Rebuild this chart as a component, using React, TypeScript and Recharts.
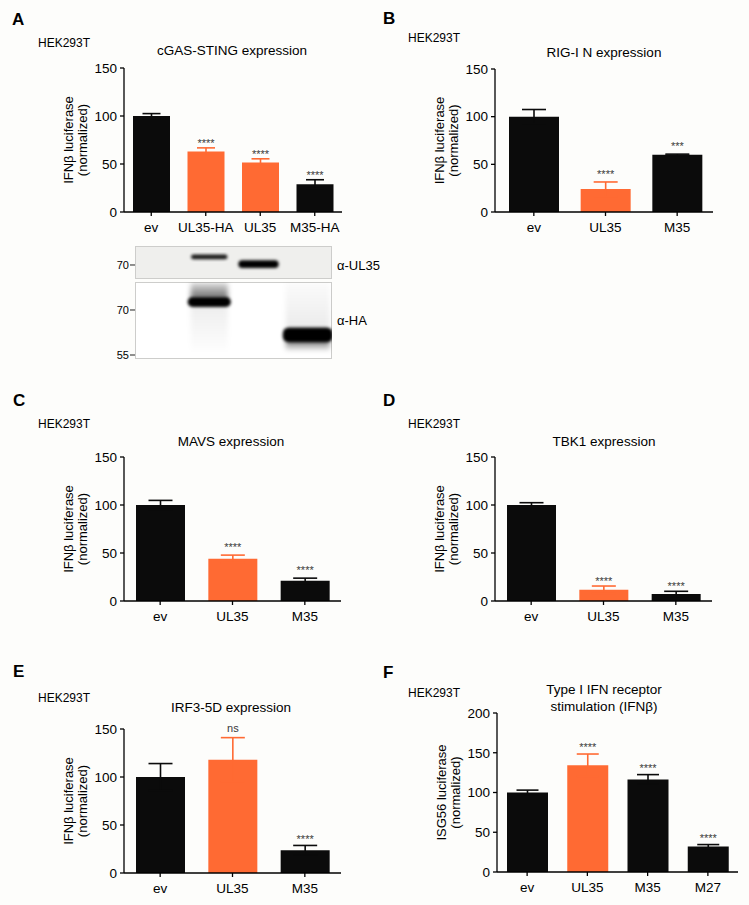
import React from 'react';
import { BarChart, Bar, XAxis, YAxis, ErrorBar, Cell, LabelList } from 'recharts';

const BLACK = '#0b0b0b';
const ORANGE = '#ff6a33';
const FONT = '"Liberation Sans", Arial, Helvetica, sans-serif';

// A - cGAS-STING expression
const aCats = ['ev', 'UL35-HA', 'UL35', 'M35-HA'];
const aVals = [100, 63, 51.5, 29];
const aErr = [2.5, 3.8, 3.9, 4.6];
const aStars = ['', '****', '****', '****'];
const aOrange = [false, true, true, false];

// B - RIG-I N expression
const bCats = ['ev', 'UL35', 'M35'];
const bVals = [100, 24, 60];
const bErr = [7.5, 7.5, 0.7];
const bStars = ['', '****', '***'];
const bOrange = [false, true, false];

// C - MAVS expression
const cCats = ['ev', 'UL35', 'M35'];
const cVals = [100, 44, 21];
const cErr = [4.8, 3.8, 2.8];
const cStars = ['', '****', '****'];
const cOrange = [false, true, false];

// D - TBK1 expression
const dCats = ['ev', 'UL35', 'M35'];
const dVals = [100, 11.8, 7.3];
const dErr = [2.4, 3.8, 2.8];
const dStars = ['', '****', '****'];
const dOrange = [false, true, false];

// E - IRF3-5D expression
const eCats = ['ev', 'UL35', 'M35'];
const eVals = [100, 118, 23.7];
const eErr = [14, 23, 5];
const eStars = ['', 'ns', '****'];
const eOrange = [false, true, false];

// F - type I IFN receptor stimulation
const fCats = ['ev', 'UL35', 'M35', 'M27'];
const fVals = [100, 134.4, 116.5, 32];
const fErr = [3, 14, 6, 2.5];
const fStars = ['', '****', '****', '****'];
const fOrange = [false, true, false, false];

const ticks150 = [0, 50, 100, 150];
const ticks200 = [0, 50, 100, 150, 200];
const ifnLabel = ['IFNβ luciferase', '(normalized)'];
const isgLabel = ['ISG56 luciferase', '(normalized)'];

const blotLanes = ['ev', 'UL35-HA', 'UL35', 'M35-HA'];
const ul35Blot = [
  { lane: 'ev', range: null },
  { lane: 'UL35-HA', range: [71.9, 73.5], bandLo: 71.9, bandHi: 73.5, core: 0.9, up: 0, down: 0 },
  { lane: 'UL35', range: [69.0, 71.6], bandLo: 69.0, bandHi: 71.6, core: 1, up: 0, down: 0 },
  { lane: 'M35-HA', range: null },
];
const haBlot = [
  { lane: 'ev', range: null },
  { lane: 'UL35-HA', range: [56.5, 79.2], bandLo: 71.0, bandHi: 74.3, core: 1, up: 0.6, down: 0.07 },
  { lane: 'UL35', range: null },
  { lane: 'M35-HA', range: [56.5, 79.2], bandLo: 59.2, bandHi: 64.2, core: 1, up: 0.08, down: 0.55 },
];

const makeRows = (cats: string[], vals: number[], err: number[], stars: string[], orange: boolean[]) =>
  cats.map((c, i) => ({
    cat: c,
    value: vals[i],
    err: err[i],
    errK: orange[i] ? null : err[i],
    errO: orange[i] ? err[i] : null,
    stars: stars[i],
    orange: orange[i],
  }));

const Txt = ({ x, y, size = 13, bold = false, center = false, children }: any) => (
  <div
    style={{
      position: 'absolute',
      left: x,
      top: y,
      transform: center ? 'translate(-50%, -50%)' : 'translateY(-50%)',
      fontSize: size,
      fontWeight: bold ? 700 : 400,
      lineHeight: 1,
      whiteSpace: 'nowrap',
      fontFamily: FONT,
      color: '#000',
    }}
  >
    {children}
  </div>
);

const AxisTitle = (props: any) => {
  const vb = props.viewBox || {};
  const right = vb.x + vb.width;
  const cy = vb.y + vb.height / 2;
  return (
    <g>
      {props.lines.map((t: string, i: number) => {
        const x = right - 56 + i * 14;
        return (
          <text key={i} x={x} y={cy} transform={`rotate(-90 ${x} ${cy})`} textAnchor="middle"
            dominantBaseline="central" fontSize={13} fontFamily={FONT} fill="#000">
            {t}
          </text>
        );
      })}
    </g>
  );
};

const axisStyle = { stroke: '#000', strokeWidth: 1.3 };
const tickStyle = { fill: '#000', fontSize: 13.5, fontFamily: FONT };
const YW = 76;

const BarPanel = ({ rows, axisX, yTop, yBottom, xEnd, yMax, yTicks, yLabel, barSize, cap, gap, padL = 0 }: any) => {
  const L = axisX - YW;
  const T = yTop - 12;
  const W = xEnd - L + 4;
  const H = yBottom - T + 30;

  const starContent = (p: any) => {
    const r = rows[p.index];
    if (!r || !r.stars) return null;
    const h = Number(p.height);
    const capY = Number(p.y) - (r.err * h) / r.value;
    const lower = /[a-z]/.test(r.stars);
    return (
      <text x={Number(p.x) + Number(p.width) / 2} y={capY - gap + (lower ? 3 : 6.3)} textAnchor="middle"
        fontSize={11} fontFamily={FONT} fill="#3a3a3a">
        {r.stars}
      </text>
    );
  };

  return (
    <div style={{ position: 'absolute', left: L, top: T }}>
      <BarChart width={W} height={H} data={rows} margin={{ top: 12, right: 4, bottom: 0, left: 0 }}>
        <XAxis dataKey="cat" interval={0} height={30} padding={{ left: padL, right: 0 }}
          axisLine={axisStyle} tickLine={axisStyle} tickSize={4} tickMargin={6} tick={tickStyle} />
        <YAxis type="number" domain={[0, yMax]} ticks={yTicks} interval={0} width={YW} allowDataOverflow
          axisLine={axisStyle} tickLine={axisStyle} tickSize={4} tickMargin={3} tick={tickStyle}
          label={<AxisTitle lines={yLabel} />} />
        <Bar dataKey="value" barSize={barSize} isAnimationActive={false}>
          {rows.map((r: any, i: number) => (
            <Cell key={i} fill={r.orange ? ORANGE : BLACK} />
          ))}
          <ErrorBar dataKey="errK" width={cap} stroke={BLACK} strokeWidth={1.6} isAnimationActive={false} />
          <ErrorBar dataKey="errO" width={cap} stroke={ORANGE} strokeWidth={1.6} isAnimationActive={false} />
          <LabelList dataKey="stars" content={starContent} />
        </Bar>
      </BarChart>
    </div>
  );
};

const makeBand = (tag: string) => (p: any) => {
  const d = p.payload;
  if (!d || !d.range) return null;
  const top = Math.min(p.y, p.y + p.height);
  const h = Math.abs(p.height);
  const [lo, hi] = d.range;
  const k = h / (hi - lo);
  const yOf = (v: number) => top + (hi - v) * k;
  const cx = p.x + p.width / 2;
  const w = p.width * Math.min(1.25, 0.75 + 0.1 * (d.bandHi - d.bandLo));
  const id = `${tag}-${p.index}`;
  const bh = yOf(d.bandLo) - yOf(d.bandHi);
  return (
    <g>
      <defs>
        <filter id={id + 's'} x="-50%" y="-50%" width="200%" height="200%">
          <feGaussianBlur stdDeviation="2.5" />
        </filter>
        <filter id={id + 'b'} x="-50%" y="-50%" width="200%" height="200%">
          <feGaussianBlur stdDeviation="1.5" />
        </filter>
        <linearGradient id={id + 'gu'} x1="0" y1="0" x2="0" y2="1">
          <stop offset="0" stopColor="#000" stopOpacity={d.up * 0.2} />
          <stop offset="1" stopColor="#000" stopOpacity={d.up} />
        </linearGradient>
        <linearGradient id={id + 'gd'} x1="0" y1="0" x2="0" y2="1">
          <stop offset="0" stopColor="#000" stopOpacity={d.down} />
          <stop offset="1" stopColor="#000" stopOpacity={d.down * 0.1} />
        </linearGradient>
      </defs>
      {d.up > 0 && (
        <rect x={cx - w / 2 + 3} y={yOf(hi)} width={w - 6} height={yOf(d.bandHi) - yOf(hi) + 2}
          fill={`url(#${id}gu)`} filter={`url(#${id}s)`} />
      )}
      {d.down > 0 && (
        <rect x={cx - w / 2 + 3} y={yOf(d.bandLo) - 2} width={w - 6} height={yOf(lo) - yOf(d.bandLo) + 2}
          fill={`url(#${id}gd)`} filter={`url(#${id}s)`} />
      )}
      <rect x={cx - w / 2} y={yOf(d.bandHi)} width={w} height={bh} rx={Math.min(bh / 2, 6)}
        fill="#000" opacity={d.core} filter={`url(#${id}b)`} />
    </g>
  );
};

const BlotPanel = ({ data, tag, top, height, domain, ticks, bg }: any) => (
  <>
    <div style={{ position: 'absolute', left: 135, top, width: 197, height, boxSizing: 'border-box',
      border: '1px solid #cdcdcb', background: bg }} />
    <div style={{ position: 'absolute', left: 100, top }}>
      <BarChart width={232} height={height + 8} data={data} margin={{ top: 0, right: 0, bottom: 8, left: 0 }}>
        <XAxis dataKey="lane" hide ticks={blotLanes} />
        <YAxis type="number" domain={domain} ticks={ticks} interval={0} width={35} allowDataOverflow
          axisLine={false} tickLine={{ stroke: '#222', strokeWidth: 1 }} tickSize={5} tickMargin={1}
          tick={{ fill: '#000', fontSize: 11, fontFamily: FONT }} />
        <Bar dataKey="range" barSize={40} isAnimationActive={false} shape={makeBand(tag)} />
      </BarChart>
    </div>
  </>
);

export default function App() {
  return (
    <div style={{ position: 'absolute', left: 0, top: 0, width: 749, height: 905, background: '#fdfdfb', overflow: 'hidden' }}>
      {/* A */}
      <Txt x={12} y={18.5} size={17} bold>A</Txt>
      <Txt x={38} y={43} size={12}>HEK293T</Txt>
      <Txt x={232} y={51} size={13.5} center>cGAS-STING expression</Txt>
      <BarPanel rows={makeRows(aCats, aVals, aErr, aStars, aOrange)} axisX={124} yTop={68} yBottom={212} xEnd={342}
        yMax={150} yTicks={ticks150} yLabel={ifnLabel} barSize={37} cap={9} gap={7} />
      <BlotPanel data={ul35Blot} tag="ul35" top={246} height={33} domain={[65.33, 76.33]} ticks={[70]} bg="#efefed" />
      <BlotPanel data={haBlot} tag="ha" top={282} height={77} domain={[53.67, 79.33]} ticks={[55, 70]} bg="#ffffff" />
      <Txt x={337} y={265}>α-UL35</Txt>
      <Txt x={337} y={320}>α-HA</Txt>

      {/* B */}
      <Txt x={383} y={17.5} size={17} bold>B</Txt>
      <Txt x={408} y={38} size={12}>HEK293T</Txt>
      <Txt x={604} y={53} size={13.5} center>RIG-I N expression</Txt>
      <BarPanel rows={makeRows(bCats, bVals, bErr, bStars, bOrange)} axisX={495} yTop={69} yBottom={212} xEnd={713}
        yMax={150} yTicks={ticks150} yLabel={ifnLabel} barSize={50} cap={12} gap={10} padL={3} />

      {/* C */}
      <Txt x={13} y={400} size={17} bold>C</Txt>
      <Txt x={38} y={424} size={12}>HEK293T</Txt>
      <Txt x={231} y={442} size={13.5} center>MAVS expression</Txt>
      <BarPanel rows={makeRows(cCats, cVals, cErr, cStars, cOrange)} axisX={124} yTop={457} yBottom={601} xEnd={341}
        yMax={150} yTicks={ticks150} yLabel={ifnLabel} barSize={49} cap={12} gap={10.5} />

      {/* D */}
      <Txt x={383} y={400} size={17} bold>D</Txt>
      <Txt x={408} y={424} size={12}>HEK293T</Txt>
      <Txt x={604} y={442} size={13.5} center>TBK1 expression</Txt>
      <BarPanel rows={makeRows(dCats, dVals, dErr, dStars, dOrange)} axisX={495} yTop={457} yBottom={601} xEnd={712}
        yMax={150} yTicks={ticks150} yLabel={ifnLabel} barSize={49} cap={12} gap={7.5} />

      {/* E */}
      <Txt x={13} y={671} size={17} bold>E</Txt>
      <Txt x={38} y={698} size={12}>HEK293T</Txt>
      <Txt x={231} y={708} size={13.5} center>IRF3-5D expression</Txt>
      <BarPanel rows={makeRows(eCats, eVals, eErr, eStars, eOrange)} axisX={124} yTop={729} yBottom={873} xEnd={341}
        yMax={150} yTicks={ticks150} yLabel={ifnLabel} barSize={49} cap={12} gap={9} />

      {/* F */}
      <Txt x={383} y={672} size={17} bold>F</Txt>
      <Txt x={408} y={693} size={12}>HEK293T</Txt>
      <Txt x={604} y={690} size={13.5} center>Type I IFN receptor</Txt>
      <Txt x={604} y={707} size={13.5} center>stimulation (IFNβ)</Txt>
      <BarPanel rows={makeRows(fCats, fVals, fErr, fStars, fOrange)} axisX={497} yTop={713} yBottom={872} xEnd={738}
        yMax={200} yTicks={ticks200} yLabel={isgLabel} barSize={41} cap={11} gap={9} />
    </div>
  );
}
